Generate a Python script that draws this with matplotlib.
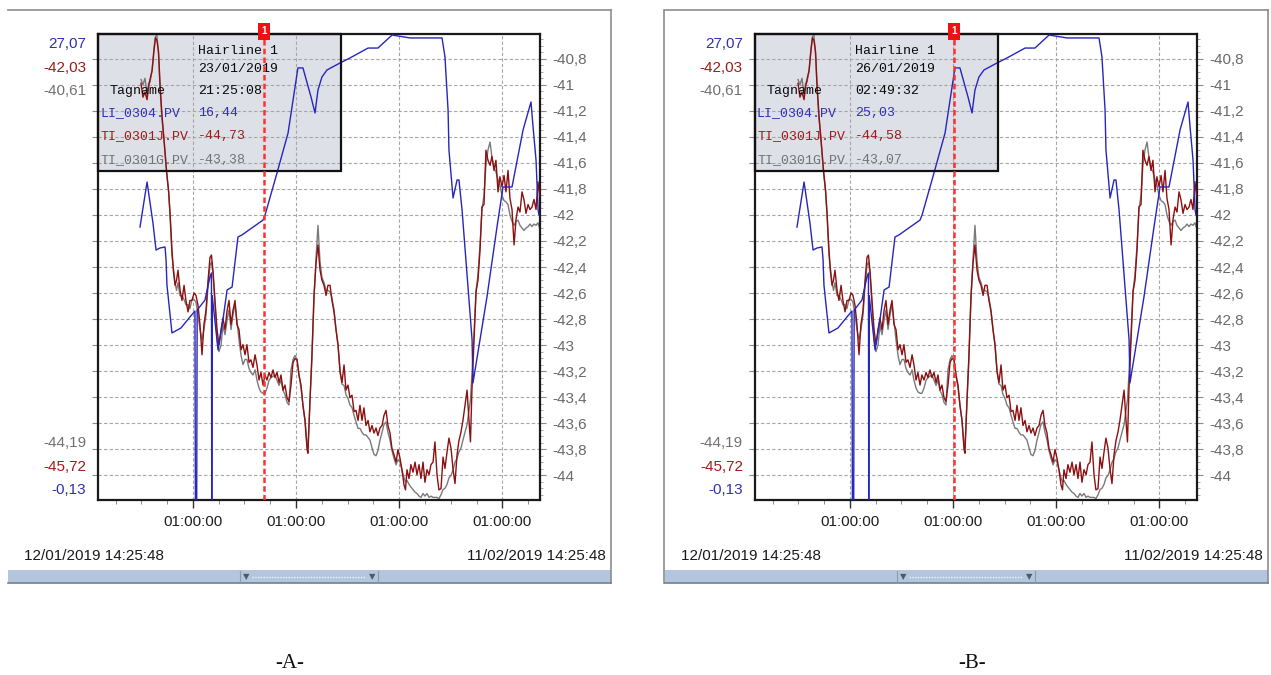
import datetime as dt
import numpy as np
import matplotlib
matplotlib.use("Agg")
import matplotlib.pyplot as plt
from matplotlib.patches import Rectangle
from matplotlib.lines import Line2D
from matplotlib.ticker import FixedLocator, MultipleLocator, FuncFormatter
from matplotlib.transforms import blended_transform_factory

plt.rcParams['font.family'] = ['Liberation Sans', 'DejaVu Sans']

W, H = 1271, 675
start = dt.datetime(2019, 1, 12, 14, 25, 48)
end = dt.datetime(2019, 2, 11, 14, 25, 48)

# ---- trend data, time in days since start ----
level_days = [2.85, 3.33, 3.73, 3.94, 4.21, 4.55, 4.62, 4.68, 5.02, 5.63,
              6.24, 6.58, 6.61, 6.70, 6.73, 7.26, 7.60, 7.70, 7.72, 7.75,
              8.15, 8.48, 8.76, 9.10, 9.30, 9.50, 9.77, 11.20, 11.34, 12.15,
              12.90, 13.57, 13.91, 14.46, 14.73, 14.93, 15.20, 15.54, 16.43, 17.10,
              18.33, 19.00, 19.96, 21.18, 23.35, 23.55, 23.76, 23.82, 24.10, 24.37,
              24.50, 24.71, 25.39, 25.45, 26.40, 27.08, 27.49, 28.10, 28.85, 29.39,
              29.53, 29.73, 29.87, 29.93]
li_0304 = [15.80, 18.43, 16.04, 14.46, 14.58, 14.64, 13.88, 12.42, 9.62, 9.91,
           10.55, 10.90, -0.13, -0.13, 10.95, 11.54, 12.89, 13.12, -0.13, 11.80,
           8.63, 10.38, 12.13, 12.30, 13.76, 15.22, 15.34, 16.21, 16.51, 18.96,
           21.29, 25.09, 25.09, 23.39, 22.46, 23.80, 24.56, 24.97, 25.38, 25.67,
           26.25, 26.25, 27.01, 26.84, 26.84, 25.73, 22.63, 20.30, 17.50, 18.55,
           18.55, 16.80, 9.21, 6.70, 11.72, 15.80, 18.14, 18.14, 21.47, 23.10,
           21.64, 19.72, 16.80, 16.51]

temp_days = [2.92, 3.05, 3.19, 3.33, 3.43, 3.53, 3.67, 3.80, 3.90, 4.00,
             4.11, 4.21, 4.34, 4.48, 4.65, 4.79, 4.89, 5.02, 5.12, 5.23,
             5.33, 5.43, 5.57, 5.70, 5.84, 5.97, 6.11, 6.24, 6.38, 6.52,
             6.65, 6.79, 6.92, 7.06, 7.19, 7.33, 7.47, 7.60, 7.70, 7.81,
             7.94, 8.08, 8.21, 8.35, 8.48, 8.62, 8.76, 8.89, 9.03, 9.16,
             9.30, 9.43, 9.57, 9.71, 9.84, 9.98, 10.11, 10.25, 10.38, 10.52,
             10.66, 10.79, 10.93, 11.06, 11.20, 11.33, 11.47, 11.61, 11.74, 11.88,
             12.01, 12.15, 12.29, 12.42, 12.56, 12.69, 12.83, 12.96, 13.10, 13.24,
             13.37, 13.51, 13.64, 13.78, 13.91, 14.05, 14.19, 14.25, 14.39, 14.52,
             14.66, 14.80, 14.93, 15.07, 15.20, 15.34, 15.48, 15.61, 15.75, 15.88,
             16.02, 16.15, 16.29, 16.43, 16.56, 16.70, 16.83, 16.97, 17.10, 17.24,
             17.38, 17.51, 17.65, 17.78, 17.92, 18.05, 18.19, 18.33, 18.46, 18.60,
             18.73, 18.87, 19.00, 19.14, 19.28, 19.41, 19.55, 19.68, 19.82, 19.95,
             20.09, 20.23, 20.36, 20.50, 20.63, 20.77, 20.87, 20.97, 21.11, 21.24,
             21.38, 21.52, 21.65, 21.79, 21.92, 22.06, 22.19, 22.33, 22.47, 22.60,
             22.74, 22.87, 23.01, 23.14, 23.28, 23.42, 23.55, 23.69, 23.82, 23.96,
             24.10, 24.23, 24.37, 24.50, 24.64, 24.77, 24.91, 25.05, 25.18, 25.28,
             25.38, 25.52, 25.66, 25.79, 25.93, 26.06, 26.20, 26.33, 26.47, 26.61,
             26.74, 26.88, 27.01, 27.15, 27.28, 27.42, 27.56, 27.69, 27.83, 27.96,
             28.10, 28.24, 28.37, 28.51, 28.64, 28.78, 28.91, 29.05, 29.19, 29.32,
             29.46, 29.59, 29.73, 29.86, 29.97]
ti_0301j = [-42.42, -42.53, -42.49, -42.55, -42.45, -42.39, -42.32, -42.16, -42.06, -42.08,
            -42.17, -42.43, -42.67, -42.87, -43.11, -43.27, -43.45, -43.74, -43.91, -44.02,
            -43.98, -43.90, -44.06, -44.14, -44.02, -44.14, -44.23, -44.14, -44.14, -44.08,
            -44.10, -44.18, -44.33, -44.57, -44.33, -44.22, -43.98, -43.80, -43.78, -43.91,
            -44.14, -44.37, -44.49, -44.37, -44.28, -44.37, -44.22, -44.14, -44.33, -44.22,
            -44.14, -44.33, -44.37, -44.53, -44.49, -44.57, -44.49, -44.63, -44.61, -44.67,
            -44.57, -44.65, -44.77, -44.71, -44.81, -44.73, -44.77, -44.71, -44.75, -44.69,
            -44.75, -44.71, -44.79, -44.73, -44.85, -44.81, -44.91, -44.94, -44.81, -44.63,
            -44.60, -44.61, -44.73, -44.81, -44.97, -45.09, -45.32, -45.35, -44.93, -44.57,
            -44.10, -43.84, -43.70, -43.90, -43.98, -44.02, -44.10, -44.02, -44.02, -44.14,
            -44.23, -44.37, -44.49, -44.71, -44.79, -44.65, -44.85, -44.81, -44.91, -44.89,
            -45.02, -45.01, -45.09, -44.97, -45.09, -44.99, -45.13, -45.09, -45.18, -45.13,
            -45.19, -45.15, -45.21, -45.15, -45.13, -45.05, -45.01, -45.13, -45.19, -45.31,
            -45.36, -45.42, -45.32, -45.39, -45.48, -45.60, -45.64, -45.48, -45.55, -45.44,
            -45.50, -45.42, -45.52, -45.44, -45.55, -45.42, -45.58, -45.48, -45.52, -45.44,
            -45.42, -45.26, -45.52, -45.64, -45.63, -45.38, -45.47, -45.34, -45.23, -45.31,
            -45.48, -45.59, -45.36, -45.25, -45.18, -45.09, -44.97, -44.85, -45.09, -45.26,
            -44.85, -44.45, -44.07, -43.98, -43.74, -43.40, -43.38, -42.95, -43.03, -43.07,
            -43.00, -43.11, -43.03, -43.28, -43.16, -43.24, -43.15, -43.28, -43.11, -43.33,
            -43.42, -43.70, -43.50, -43.40, -43.44, -43.28, -43.34, -43.45, -43.38, -43.42,
            -43.40, -43.34, -43.42, -43.20, -43.31]
ti_0301g = [-40.96, -41.00, -40.95, -41.08, -40.99, -40.98, -40.89, -40.72, -40.63, -40.62,
            -40.77, -41.02, -41.26, -41.42, -41.67, -41.82, -42.00, -42.31, -42.41, -42.52,
            -42.58, -42.52, -42.62, -42.62, -42.65, -42.69, -42.69, -42.72, -42.65, -42.65,
            -42.67, -42.77, -42.88, -42.96, -42.88, -42.77, -42.54, -42.39, -42.36, -42.46,
            -42.69, -42.96, -43.05, -43.00, -42.85, -42.92, -42.81, -42.73, -42.88, -42.77,
            -42.69, -42.81, -42.96, -43.08, -43.15, -43.11, -43.11, -43.18, -43.21, -43.23,
            -43.19, -43.27, -43.33, -43.36, -43.37, -43.37, -43.33, -43.27, -43.25, -43.24,
            -43.23, -43.27, -43.31, -43.27, -43.35, -43.38, -43.44, -43.46, -43.19, -43.11,
            -43.08, -43.11, -43.23, -43.33, -43.46, -43.58, -43.77, -43.79, -43.42, -43.11,
            -42.65, -42.33, -42.08, -42.36, -42.48, -42.52, -42.58, -42.58, -42.59, -42.64,
            -42.73, -42.87, -43.00, -43.19, -43.30, -43.31, -43.38, -43.41, -43.46, -43.48,
            -43.54, -43.59, -43.64, -43.64, -43.67, -43.69, -43.69, -43.71, -43.73, -43.79,
            -43.84, -43.85, -43.81, -43.73, -43.67, -43.61, -43.59, -43.67, -43.73, -43.81,
            -43.87, -43.92, -43.88, -43.90, -43.96, -44.02, -44.05, -44.04, -44.07, -44.09,
            -44.11, -44.13, -44.14, -44.16, -44.17, -44.14, -44.16, -44.14, -44.17, -44.16,
            -44.17, -44.17, -44.17, -44.18, -44.15, -44.11, -44.10, -44.07, -44.02, -44.00,
            -43.96, -43.90, -43.87, -43.82, -43.79, -43.73, -43.67, -43.61, -43.50, -43.42,
            -43.23, -42.92, -42.58, -42.46, -42.23, -41.96, -41.85, -41.62, -41.50, -41.44,
            -41.56, -41.64, -41.67, -41.73, -41.77, -41.85, -41.89, -41.90, -41.92, -42.00,
            -42.05, -42.08, -42.05, -42.04, -42.08, -42.10, -42.12, -42.10, -42.09, -42.07,
            -42.09, -42.07, -42.08, -42.06, -42.10]

tag_names = ["LI_0304.PV", "TI_0301J.PV", "TI_0301G.PV"]
tag_colors = ["#2626bc", "#8c1010", "#7a7a7a"]
label_colors = ["#3030b0", "#9c1c1c", "#727272"]
level_range = (-0.13, 27.07)
tj_range = (-45.72, -42.03)
tg_range = (-44.19, -40.61)

hairline_times = [dt.datetime(2019, 1, 23, 21, 25, 8), dt.datetime(2019, 1, 26, 2, 49, 32)]
hairline_values = [["16,44", "-44,73", "-43,38"], ["25,03", "-44,58", "-43,07"]]
tick_times = [dt.datetime(2019, 1, 19, 1, 0, 0) + dt.timedelta(days=7 * k) for k in range(4)]
captions = ["-A-", "-B-"]


def days_since(t):
    return (t - start).total_seconds() / 86400.0


def fig_xy(x, y):
    return x / W, 1 - y / H


def comma(v, nd=2):
    return f"{v:.{nd}f}".replace('.', ',')


fig = plt.figure(figsize=(W / 100, H / 100), dpi=100)
span = days_since(end)
major = [days_since(t) for t in tick_times]
minor = np.arange(major[0] - 3 * 1.75, span, 1.75)
minor = minor[minor > 0]


def draw_panel(x0, hair_t, vals, caption, cap_x):
    L, T, R, B = 98 + x0, 34, 540 + x0, 500
    rect = [L / W, 1 - B / H, (R - L) / W, (B - T) / H]

    def rel(px, py):
        return (px - 98) / 442, (500 - py) / 466

    bx, by = rel(341, 171)

    # gray series owns the grid and the right-hand scale
    ax_g = fig.add_axes(rect)
    ax_g.set_xlim(0, span)
    ax_g.set_ylim(*tg_range)
    ax_g.set_axisbelow(True)
    # readout box background, under grid and curves
    ax_g.add_patch(Rectangle((0, by), bx, 1 - by, transform=ax_g.transAxes,
                             fc='#dde0e6', ec='none', zorder=0.3))
    ax_g.plot(temp_days, ti_0301g, color=tag_colors[2], lw=1.0)
    ax_g.grid(True, which='major', color='#a6a6a6', ls=(0, (3, 2)), lw=0.8)
    ax_g.yaxis.set_major_locator(MultipleLocator(0.2))
    ax_g.yaxis.set_minor_locator(MultipleLocator(0.05))
    ax_g.yaxis.set_major_formatter(FuncFormatter(lambda v, p: f"{round(v, 1):g}".replace('.', ',')))
    ax_g.xaxis.set_major_locator(FixedLocator(major))
    ax_g.xaxis.set_minor_locator(FixedLocator(minor))
    ax_g.xaxis.set_major_formatter(FuncFormatter(
        lambda v, p: (start + dt.timedelta(seconds=round(v * 86400))).strftime('%H:%M:%S')))
    ax_g.tick_params(axis='y', which='major', left=True, right=True, labelleft=False,
                     labelright=True, length=4, width=0.8, color='#8a8a8a',
                     labelsize=11, labelcolor='#6a6a6a', pad=5)
    ax_g.tick_params(axis='y', which='minor', left=False, right=True, length=2.5,
                     width=0.6, color='#9a9a9a')
    ax_g.tick_params(axis='x', which='major', length=6, width=1.0, color='#303030',
                     labelsize=11, labelcolor='#1e1e1e', pad=5)
    ax_g.tick_params(axis='x', which='minor', length=3, width=0.7, color='#8a8a8a')
    for s in ax_g.spines.values():
        s.set_linewidth(1.6)
        s.set_color('#1a1a1a')

    ax_r = fig.add_axes(rect, sharex=ax_g)
    ax_r.set_ylim(*tj_range)
    ax_r.plot(temp_days, ti_0301j, color=tag_colors[1], lw=1.0)
    ax_r.axis('off')

    ax_b = fig.add_axes(rect, sharex=ax_g)
    ax_b.set_ylim(*level_range)
    ax_b.plot(level_days, li_0304, color=tag_colors[0], lw=1.0)
    ax_b.axis('off')
    ax_b.set_xlim(0, span)

    ax_b.add_patch(Rectangle((0, by), bx, 1 - by, transform=ax_b.transAxes,
                             fc='none', ec='#111111', lw=1.6, zorder=5.5, clip_on=False))
    mono = dict(family=['Liberation Mono', 'DejaVu Sans Mono'], fontsize=9.5,
                transform=ax_b.transAxes, va='center', zorder=6)
    ax_b.text(*rel(198, 51), "Hairline 1", color='#0a0a0a', **mono)
    ax_b.text(*rel(198, 69), hair_t.strftime('%d/%m/%Y'), color='#0a0a0a', **mono)
    ax_b.text(*rel(109, 91), "Tagname", color='#0a0a0a', **mono)
    ax_b.text(*rel(198, 91), hair_t.strftime('%H:%M:%S'), color='#0a0a0a', **mono)
    for i, py in enumerate([113, 136, 160]):
        ax_b.text(*rel(100, py), tag_names[i], color=label_colors[i], **mono)
        ax_b.text(*rel(198, py), vals[i], color=label_colors[i], **mono)

    # hairline
    hd = days_since(hair_t)
    ax_b.axvline(hd, color='#ff3030', lw=1.8, ls=(0, (2.2, 1.3)), zorder=7)
    ax_b.text(hd, 1.006, '1', transform=blended_transform_factory(ax_b.transData, ax_b.transAxes),
              ha='center', va='center', color='white', fontsize=7, fontweight='bold',
              bbox=dict(boxstyle='square,pad=0.35', fc='#ee1111', ec='none'), zorder=9,
              clip_on=False)

    # scale limits at left
    lim_rows = [(44, level_range[1], 0), (68, tj_range[1], 1), (91, tg_range[1], 2),
                (443, tg_range[0], 2), (467, tj_range[0], 1), (490, level_range[0], 0)]
    for py, v, ci in lim_rows:
        fig.text(*fig_xy(86 + x0, py), comma(v), color=label_colors[ci], fontsize=11,
                 ha='right', va='center')

    # window frame
    fig.add_artist(Line2D([fig_xy(8 + x0, 0)[0], fig_xy(611 + x0, 0)[0]],
                          [fig_xy(0, 10)[1]] * 2, color='#8c8c8c', lw=1.2))
    fig.add_artist(Line2D([fig_xy(611 + x0, 0)[0]] * 2, [fig_xy(0, 10)[1], fig_xy(0, 583)[1]],
                          color='#8c8c8c', lw=1.2))
    if x0 > 0:
        fig.add_artist(Line2D([fig_xy(7 + x0, 0)[0]] * 2, [fig_xy(0, 10)[1], fig_xy(0, 583)[1]],
                              color='#8c8c8c', lw=1.2))

    # time range labels
    fig.text(*fig_xy(24 + x0, 556), start.strftime('%d/%m/%Y %H:%M:%S'), fontsize=11,
             color='#1a1a1a', ha='left', va='center')
    fig.text(*fig_xy(606 + x0, 556), end.strftime('%d/%m/%Y %H:%M:%S'), fontsize=11,
             color='#1a1a1a', ha='right', va='center')

    # scroll bar
    sx, sy = fig_xy(8 + x0, 583)
    fig.add_artist(Rectangle((sx, sy), 603 / W, 13 / H, transform=fig.transFigure,
                             fc='#b3c6dd', ec='none'))
    fig.add_artist(Line2D([sx, sx + 603 / W], [sy, sy], color='#6f8196', lw=1.2))
    for tx in (240, 378):
        fig.add_artist(Line2D([fig_xy(tx + x0, 0)[0]] * 2, [fig_xy(0, 571)[1], fig_xy(0, 582)[1]],
                              color='#8a9ab0', lw=0.8))
    fig.add_artist(Line2D([fig_xy(252 + x0, 0)[0], fig_xy(366 + x0, 0)[0]],
                          [fig_xy(0, 576.5)[1]] * 2, color='#eef3f8', lw=1.0, ls=(0, (1, 1))))
    for tx in (246, 372):
        fig.text(*fig_xy(tx + x0, 576.5), '\u25bc', fontsize=6, color='#4e5a68',
                 ha='center', va='center', family='DejaVu Sans')

    fig.text(*fig_xy(cap_x, 663), caption, family=['Liberation Serif', 'DejaVu Serif'],
             fontsize=15, ha='center', va='center', color='#111111')


draw_panel(0, hairline_times[0], hairline_values[0], captions[0], 290)
draw_panel(657, hairline_times[1], hairline_values[1], captions[1], 972)

fig.savefig('out.png', dpi=100)
